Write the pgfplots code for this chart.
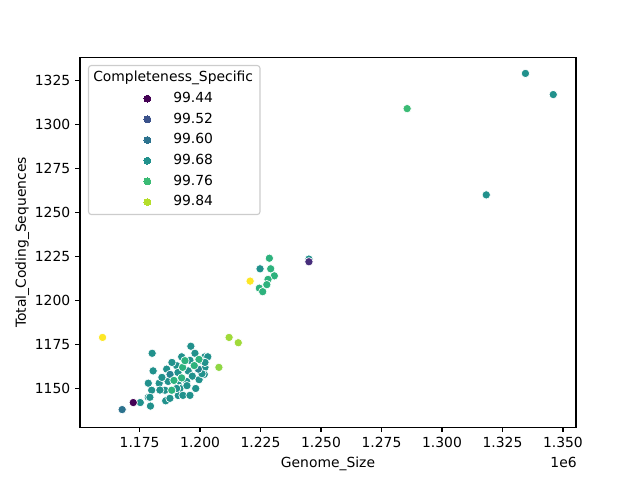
\documentclass[border=0pt]{standalone}
\usepackage{pgfplots}
\pgfplotsset{compat=1.18}
\usepackage{fontspec}
\setmainfont{DejaVu Sans}
\definecolor{c44}{HTML}{440154}
\definecolor{c48}{HTML}{472D7B}
\definecolor{c52}{HTML}{3B528B}
\definecolor{c60}{HTML}{2C728E}
\definecolor{c64}{HTML}{26828E}
\definecolor{c68}{HTML}{21918C}
\definecolor{c72}{HTML}{2DB27D}
\definecolor{c76}{HTML}{3BBB75}
\definecolor{c80}{HTML}{8FD744}
\definecolor{c82}{HTML}{A0DA39}
\definecolor{c84}{HTML}{B5DE2B}
\definecolor{c92}{HTML}{FDE725}
\definecolor{legframe}{HTML}{CCCCCC}
\pgfplotsset{
  pt/.style={only marks, mark=*, mark size=3pt, mark options={draw=white, line width=0.48pt, fill=#1}, forget plot},
  lg/.style={only marks, mark=*, mark size=2.5pt, draw=#1, fill=#1, mark options={draw=#1, fill=#1, line width=0pt}},
}
\begin{document}
\begin{tikzpicture}
\path[use as bounding box] (0,0) rectangle (460.8pt,345.6pt);
\begin{axis}[
  at={(57.6pt,38.016pt)}, anchor=south west,
  width=357.12pt, height=266.112pt, scale only axis,
  clip mode=individual,
  xmin=1150377, xmax=1355394, ymin=1128, ymax=1338,
  xtick={1175000,1200000,1225000,1250000,1275000,1300000,1325000,1350000},
  xticklabels={1.175,1.200,1.225,1.250,1.275,1.300,1.325,1.350},
  scaled x ticks=false,
  ytick={1150,1175,1200,1225,1250,1275,1300,1325},
  /pgf/number format/1000 sep={},
  /pgf/number format/assume math mode=true,
  tick align=outside, major tick length=3.5pt,
  tick style={line width=0.8pt, black},
  axis line style={line width=0.8pt},
  xtick pos=bottom, ytick pos=left,
  font=\fontsize{10}{12}\selectfont,
  ticklabel style={font=\fontsize{10}{12}\selectfont},
  xlabel={Genome\_Size}, ylabel={Total\_Coding\_Sequences},
  xlabel style={at={(axis description cs:0.5,0)}, anchor=base, yshift=-29pt},
  ylabel style={at={(axis description cs:0,0.5)}, anchor=base, yshift=38.9pt},
  legend cell align=left,
  legend image code/.code={\path[draw=none,fill=none] (0pt,-3pt) rectangle (56pt,3pt);
     \draw[mark repeat=2,mark phase=2,#1] plot coordinates {(0pt,0pt) (37.4pt,0pt) (56pt,0pt)};},
  legend style={at={(0,1)}, anchor=north west, xshift=5.76pt, yshift=-5.3pt,
     draw=legframe, line width=0.8pt, rounded corners=2pt, fill=white,
     inner xsep=5pt, inner ysep=4.2pt, row sep=5.4pt,
     nodes={inner sep=0pt, text height=7.5pt, text depth=2pt, anchor=west},
     font=\fontsize{10}{12}\selectfont},
]
% teal points (99.68)
\addplot[pt=c68] table {
x y
1334500 1329
1346000 1317
1318300 1260
1245000 1223.5
1224800 1218
1175300 1142
1178600 1145
1179500 1140
1178600 1153
1180000 1149
1180200 1170
1180600 1160
1196200 1174
1192400 1168
1197900 1170
1202000 1168
1203200 1168
1186200 1161
1190300 1163
1195100 1160
1200000 1166
1196800 1157
1183100 1153
1186800 1154
1191000 1152
1199600 1155
1185500 1149
1191700 1150
1198200 1150
1185800 1143
1191000 1146
1194460 1154
1202040 1162
1201750 1158
1195830 1166
1190320 1150
1179270 1145
1188380 1164.8
1190860 1159.1
1194590 1151.6
1184240 1156.3
1183410 1149.1
1192930 1146.1
1195830 1146.1
1202040 1164.8
1200800 1158.4
1187550 1144.4
};
% darker teal (99.64)
\addplot[pt=c64] table {
x y
1199300 1161
1187600 1158
};
% green (99.72)
\addplot[pt=c72] table {
x y
1228650 1224
1229200 1218
1230700 1214
1228100 1212
1227600 1209
1224500 1207
1225900 1205
1192800 1162
1192400 1156
1188300 1149
1199554 1166.5
1197610 1163
1193760 1165.8
1189210 1154.6
};
\addplot[pt=c76] table {
x y
1285600 1309
};
\addplot[pt=c48] table {
x y
1245000 1222
};
\addplot[pt=c60] table {
x y
1167800 1138
};
\addplot[pt=c44] table {
x y
1172400 1142
};
\addplot[pt=c82] table {
x y
1212000 1179
1215800 1176
};
\addplot[pt=c80] table {
x y
1207800 1162
};
\addplot[pt=c92] table {
x y
1220700 1211
1159700 1179
};
% legend
\addlegendimage{empty legend}
\addlegendentry{\hspace*{-57.6pt}Completeness\_Specific}
\addlegendimage{lg=c44}\addlegendentry{99.44}
\addlegendimage{lg=c52}\addlegendentry{99.52}
\addlegendimage{lg=c60}\addlegendentry{99.60}
\addlegendimage{lg=c68}\addlegendentry{99.68}
\addlegendimage{lg=c76}\addlegendentry{99.76}
\addlegendimage{lg=c84}\addlegendentry{99.84}
\node[anchor=base east, inner sep=0pt] at (rel axis cs:1,0) [yshift=-29.1pt, xshift=0.7pt] {1e6};
\end{axis}
\end{tikzpicture}
\end{document}
